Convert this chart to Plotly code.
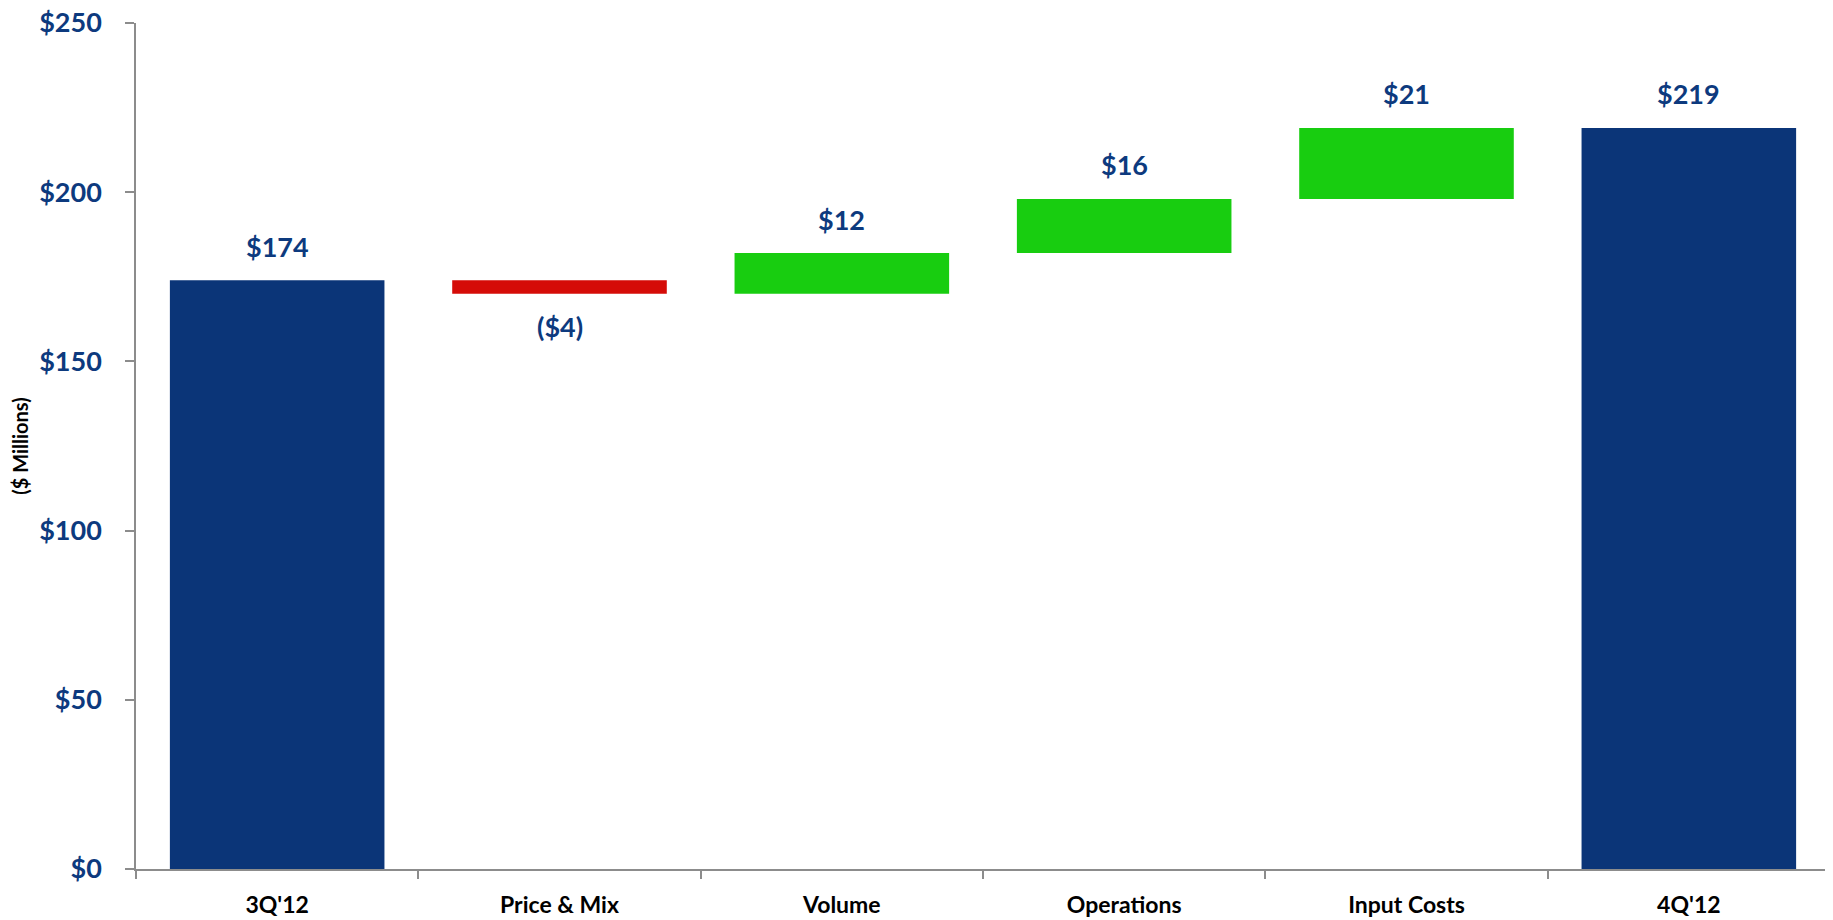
import plotly.graph_objects as go

categories = ["3Q'12", "Price & Mix", "Volume", "Operations", "Input Costs", "4Q'12"]
values = [174, -4, 12, 16, 21, 219]
measures = ["absolute", "relative", "relative", "relative", "relative", "total"]
labels = ["$174", "($4)", "$12", "$16", "$21", "$219"]
y_ticks = [0, 50, 100, 150, 200, 250]
y_tick_text = ["$" + str(v) for v in y_ticks]

NAVY = "#0B3578"
TEXT_NAVY = "#0D3A7E"
GREEN = "#18CD10"
RED = "#D50C08"
GREY = "#8C8C8C"
FONT = "Lato"

fig = go.Figure(go.Waterfall(
    x=categories,
    y=values,
    measure=measures,
    increasing=dict(marker=dict(color=GREEN)),
    decreasing=dict(marker=dict(color=RED)),
    totals=dict(marker=dict(color=NAVY)),
    connector=dict(visible=False),
    width=0.76,
    hoverinfo="skip",
))

# label positions computed from the data
running = 0
for cat, v, m, lab in zip(categories, values, measures, labels):
    if m == "absolute":
        running = v
        end, up = v, True
    elif m == "total":
        end, up = running, True
    else:
        running += v
        end, up = (running, v >= 0)
    fig.add_annotation(
        x=cat, y=end, text=lab, showarrow=False,
        yanchor="middle", yshift=34 if up else -33,
        font=dict(family=FONT, size=27, color=TEXT_NAVY, weight="bold"),
    )

fig.update_layout(
    width=1825, height=912,
    margin=dict(l=128, r=3, t=15, b=51),
    plot_bgcolor="white", paper_bgcolor="white",
    showlegend=False,
    xaxis=dict(
        automargin=False,
        showline=True, linecolor=GREY, linewidth=1.5,
        ticks="outside", tickson="boundaries", ticklen=8, tickcolor=GREY, tickwidth=1.5,
        tickfont=dict(family=FONT, size=23, color="black", weight="bold"),
        ticklabelstandoff=15,
        showgrid=False, zeroline=False,
    ),
    yaxis=dict(
        automargin=False,
        range=[0, 250], tickvals=y_ticks, ticktext=y_tick_text,
        ticklabeloverflow="allow",
        showline=True, linecolor=GREY, linewidth=1.5,
        ticks="outside", ticklen=9, tickcolor=GREY, tickwidth=1.5,
        tickfont=dict(family=FONT, size=27, color=TEXT_NAVY, weight="bold"),
        ticklabelstandoff=18,
        showgrid=False, zeroline=False,
        title=dict(text="($ Millions)", standoff=8,
                   font=dict(family=FONT, size=20, color="black", weight="bold")),
    ),
)

fig.write_html("out.html")
